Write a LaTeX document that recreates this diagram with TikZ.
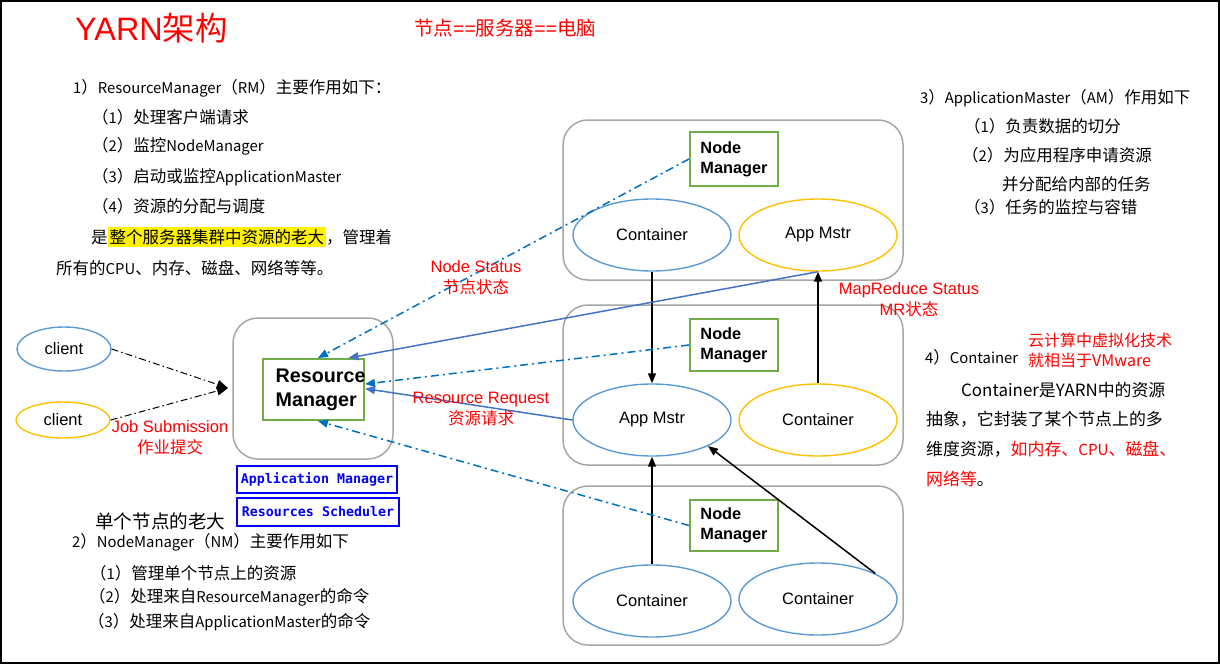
\documentclass[tikz,border=0pt]{standalone}
\usepackage{fontspec}
\setmainfont{Liberation Sans}
\newfontfamily\cjk{Noto Sans CJK SC}
\newfontfamily\lat[Scale=0.9]{Noto Sans CJK SC}
\newfontfamily\monof{DejaVu Sans Mono}
\usetikzlibrary{arrows.meta,shapes.geometric}
\definecolor{eblue}{HTML}{5B9BD5}
\definecolor{eyel}{HTML}{FFC000}
\definecolor{egreen}{HTML}{70AD47}
\definecolor{boxgray}{HTML}{A6A6A6}
\definecolor{lblue}{HTML}{4472C4}
\definecolor{dblue}{HTML}{0070C0}
\definecolor{pblue}{HTML}{0000FF}
\begin{document}
\begin{tikzpicture}[x=1pt,y=-1pt,
  server/.style={draw=boxgray, line width=1.5pt, rounded corners=25pt, minimum width=340pt, inner sep=0pt},
  ell/.style={ellipse, line width=1.4pt, minimum width=158pt, minimum height=72pt, inner sep=0pt, font=\fontsize{16.5}{20}\selectfont},
  bluell/.style={ell, draw=eblue},
  yelell/.style={ell, draw=eyel},
  nmbox/.style={draw=egreen, line width=2pt, minimum width=88pt, align=left, inner sep=0pt, font=\bfseries\fontsize{16.3}{20}\selectfont},
  monobox/.style={draw=pblue, line width=2pt, text=pblue, inner sep=0pt, font=\monof\bfseries\fontsize{13.3}{15}\selectfont},
  body/.style={anchor=west, inner sep=0pt, font=\cjk\fontsize{16.5}{20}\selectfont},
  redlbl/.style={text=red, align=center, inner sep=0pt, font=\fontsize{16.5}{21}\selectfont},
  blk/.style={line width=1.5pt, -{Triangle[length=10pt,width=8pt]}},
  bl/.style={draw=lblue, line width=1.5pt, -{Triangle[length=10pt,width=8pt]}},
  dd/.style={draw=dblue, line width=1.5pt, dash pattern=on 8pt off 4pt on 2pt off 4pt, -{Triangle[length=10pt,width=8pt]}},
  cl/.style={line width=1pt, dash pattern=on 7pt off 3pt on 1.5pt off 3pt, -{Triangle[length=11pt,width=9pt]}}
]
\useasboundingbox (0,0) rectangle (1220,664);
\draw[line width=1.5pt] (1,1) rectangle (1219,663);

% title
\node[anchor=west, inner sep=0pt, text=red, font=\fontsize{32.4}{36}\selectfont] (title) at (75,28) {YARN{\cjk 架构}};
\node[anchor=west, inner sep=0pt, text=red, font=\cjk\fontsize{19.5}{22}\selectfont] (eq) at (414,28) {节点{\rmfamily ==}服务器{\rmfamily ==}电脑};

% left text block
\node[body] (t1) at (73,88) {{\lat 1}）{\lat ResourceManager}（{\lat RM}）主要作用如下：};
\node[body] (t2) at (92,117) {（{\lat 1}）处理客户端请求};
\node[body] (t3) at (92,146) {（{\lat 2}）监控{\lat NodeManager}};
\node[body] (t4) at (92,177) {（{\lat 3}）启动或监控{\lat ApplicationMaster}};
\node[body] (t5) at (92,206) {（{\lat 4}）资源的分配与调度};
\node[body] (t6) at (91,237) {是\setlength{\fboxsep}{2pt}\colorbox{yellow}{整个服务器集群中资源的老大}，管理着};
\node[body] (t7) at (56,268) {所有的{\lat CPU}、内存、磁盘、网络等等。};

% right text block
\node[body] (r1) at (920,98) {{\lat 3}）{\lat ApplicationMaster}（{\lat AM}）作用如下};
\node[body] (r2) at (964,126) {（{\lat 1}）负责数据的切分};
\node[body] (r3) at (962,155) {（{\lat 2}）为应用程序申请资源};
\node[body] (r4) at (1002,184) {并分配给内部的任务};
\node[body] (r5) at (964,207) {（{\lat 3}）任务的监控与容错};
\node[body] (r6) at (925,357) {{\lat 4}）{\lat Container}};
\node[body, text=red, font=\cjk\fontsize{16}{20}\selectfont] (r7) at (1028,340) {云计算中虚拟化技术};
\node[body, text=red, font=\cjk\fontsize{16}{20}\selectfont] (r8) at (1028,360) {就相当于VMware};
\node[body, font=\cjk\fontsize{16.9}{20}\selectfont] (r9) at (961,390) {Container是YARN中的资源};
\node[body, font=\cjk\fontsize{16.9}{20}\selectfont] (r10) at (926,419) {抽象，它封装了某个节点上的多};
\node[body, font=\cjk\fontsize{16.9}{20}\selectfont] (r11) at (926,449) {维度资源，\textcolor{red}{如内存、{\lat CPU}、磁盘、}};
\node[body, font=\cjk\fontsize{16.9}{20}\selectfont] (r12) at (926,479) {\textcolor{red}{网络等}。};

% bottom left text block
\node[body, font=\cjk\fontsize{18.6}{22}\selectfont] (b0) at (95,521) {单个节点的老大};
\node[body] (b1) at (72,542) {{\lat 2}）{\lat NodeManager}（{\lat NM}）主要作用如下};
\node[body] (b2) at (90,573) {（{\lat 1}）管理单个节点上的资源};
\node[body] (b3) at (89,597) {（{\lat 2}）处理来自{\lat ResourceManager}的命令};
\node[body] (b4) at (88,622) {（{\lat 3}）处理来自{\lat ApplicationMaster}的命令};

% clients
\node[ell, draw=eblue, minimum width=94pt, minimum height=44pt] (c1) at (64,349) {client};
\node[ell, draw=eyel, minimum width=94pt, minimum height=36pt] (c2) at (63,420) {client};
\coordinate (js) at (228,388);
\draw[cl] (c1.east) -- (js);
\draw[cl] (c2.east) -- (js);
\node[redlbl] (jsl) at (170,438) {Job Submission\\{\cjk 作业提交}};

% resource manager
\node[server, minimum width=160pt, minimum height=141pt] (rmc) at (313,388.5) {};
\node[draw=egreen, line width=2pt, minimum width=101pt, minimum height=61pt, inner sep=0pt] (rm) at (313.5,389.5) {};
\node[anchor=west, inner sep=0pt, align=left, font=\bfseries\fontsize{19.7}{24}\selectfont] (rmt) at (275.5,389.5) {Resource\\Manager};
\node[monobox, minimum width=160pt, minimum height=27pt] (apm) at (317,479.5) {Application Manager};
\node[monobox, minimum width=162pt, minimum height=28pt] (rsch) at (318,512) {Resources Scheduler};

% servers
\node[server, minimum height=160pt] (s1) at (733,200) {};
\node[server, minimum height=160pt] (s2) at (733,385) {};
\node[server, minimum height=159pt] (s3) at (733,565.5) {};

\node[nmbox, minimum height=54pt] (nm1) at (734,159) {Node\\Manager};
\node[nmbox, minimum height=52pt] (nm2) at (734,345) {Node\\Manager};
\node[nmbox, minimum height=51pt] (nm3) at (734,525.5) {Node\\Manager};

\node[bluell] (tc) at (652,235) {Container};
\node[yelell] (tam) at (818,235) {App Mstr};
\node[bluell] (mam) at (652,420) {App Mstr};
\node[yelell] (mc) at (818,420) {Container};
\node[bluell] (bc1) at (652,601) {Container};
\node[bluell] (bc2) at (818,599) {Container};

% connectors
\draw[blk] (tc.south) -- (mam.north);
\draw[blk] (mc.north) -- (tam.south);
\draw[blk] (bc1.north) -- (mam.south);
\draw[blk] (bc2.24) -- (mam.-25);
\draw[bl] (tam.south) -- (rm.42);
\draw[bl] (mam.west) -- (rm.1);
\draw[dd] (nm1.west) -- (rm.82);
\draw[dd] (nm2.west) -- (rm.6);
\draw[dd] (nm3.west) -- (rm.-82);

% labels
\node[redlbl] (nsl) at (476,278) {Node Status\\{\cjk 节点状态}};
\node[redlbl] (rrl) at (481,409) {Resource Request\\{\cjk 资源请求}};
\node[redlbl] (mrl) at (909,300) {MapReduce Status\\MR{\cjk 状态}};
\end{tikzpicture}
\end{document}
